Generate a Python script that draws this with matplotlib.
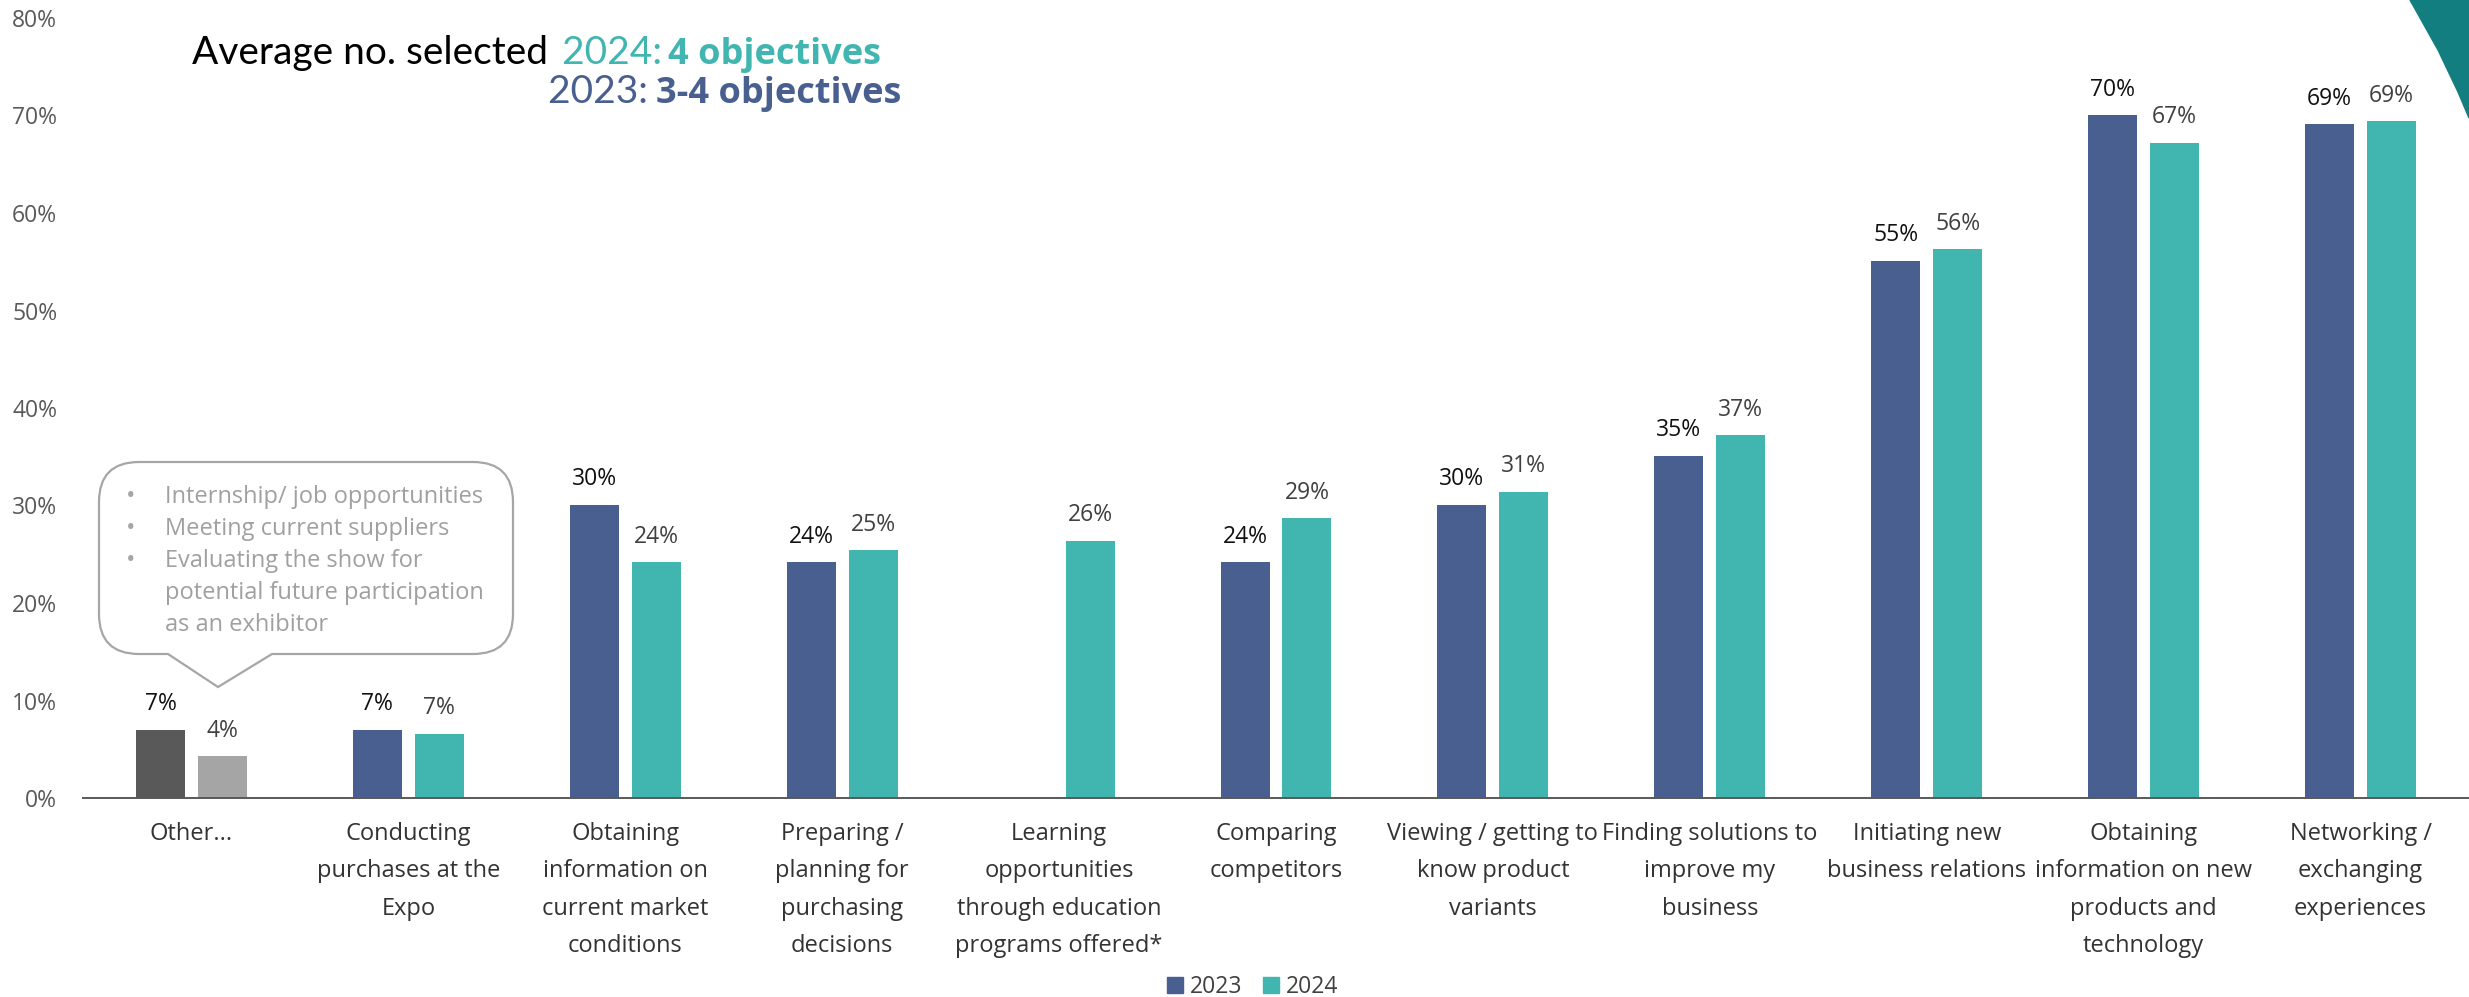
import numpy as np
import matplotlib.pyplot as plt
from matplotlib.patches import Patch, PathPatch, Polygon
from matplotlib.path import Path

plt.rcParams["font.family"] = ["Open Sans", "DejaVu Sans"]

# figure size in pixels
W, H = 2469, 997

categories = [
    "Other...",
    "Conducting\npurchases at the\nExpo",
    "Obtaining\ninformation on\ncurrent market\nconditions",
    "Preparing /\nplanning for\npurchasing\ndecisions",
    "Learning\nopportunities\nthrough education\nprograms offered*",
    "Comparing\ncompetitors",
    "Viewing / getting to\nknow product\nvariants",
    "Finding solutions to\nimprove my\nbusiness",
    "Initiating new\nbusiness relations",
    "Obtaining\ninformation on new\nproducts and\ntechnology",
    "Networking /\nexchanging\nexperiences",
]
share_2023 = [7.0, 7.0, 30.1, 24.2, np.nan, 24.2, 30.1, 35.1, 55.1, 70.0, 69.1]
share_2024 = [4.3, 6.6, 24.2, 25.4, 26.4, 28.7, 31.4, 37.2, 56.3, 67.2, 69.4]

other_notes = [
    ("•", "Internship/ job opportunities"),
    ("•", "Meeting current suppliers"),
    ("•", "Evaluating the show for"),
    ("", "potential future participation"),
    ("", "as an exhibitor"),
]

NAVY = "#485f8f"
TEAL = "#41b5b0"
colors_2023 = ["#595959"] + [NAVY] * (len(categories) - 1)
colors_2024 = ["#a5a5a5"] + [TEAL] * (len(categories) - 1)


def px(x, y):
    """pixel position (from top-left) -> figure fraction"""
    return x / W, 1 - y / H


fig = plt.figure(figsize=(W / 100, H / 100), dpi=100)
ax = fig.add_axes([83 / W, (H - 798) / H, 1 - 83 / W, (798 - 18) / H])

x = np.arange(len(categories))
bw = 0.2256
off = 0.1427
ax.bar(x - off, share_2023, width=bw, color=colors_2023)
ax.bar(x + off, share_2024, width=bw, color=colors_2024)

for xs, vals, tc in [(x - off, share_2023, "#111111"), (x + off, share_2024, "#404040")]:
    for xi, v in zip(xs, vals):
        if np.isnan(v):
            continue
        ax.annotate(f"{round(v)}%", (xi, v), xytext=(0, 14), textcoords="offset points",
                    ha="center", va="baseline", fontsize=16.5, color=tc)

ax.set_xlim(-0.5, 10.5)
ax.set_ylim(0, 80)
ax.set_yticks(range(0, 81, 10))
ax.set_yticklabels([f"{t}%" for t in range(0, 81, 10)])
ax.set_xticks(x)
ax.set_xticklabels(categories, linespacing=1.75)
ax.tick_params(axis="y", length=0, pad=18.5, labelsize=16.5, labelcolor="#595959")
ax.tick_params(axis="x", length=0, pad=17, labelsize=17, labelcolor="#333333")
for s in ["left", "right", "top"]:
    ax.spines[s].set_visible(False)
ax.spines["bottom"].set_color("#595959")
ax.spines["bottom"].set_linewidth(1.4)

# callout bubble for "Other..."
x0, x1, yt, yb, r = 99, 513, 462, 654, 40
tip = (218, 687)
verts = [
    (x0 + r, yt), (x1 - r, yt), (x1, yt), (x1, yt + r),
    (x1, yb - r), (x1, yb), (x1 - r, yb),
    (272, yb), tip, (168, yb),
    (x0 + r, yb), (x0, yb), (x0, yb - r),
    (x0, yt + r), (x0, yt), (x0 + r, yt),
]
codes = [Path.MOVETO, Path.LINETO, Path.CURVE3, Path.CURVE3,
         Path.LINETO, Path.CURVE3, Path.CURVE3,
         Path.LINETO, Path.LINETO, Path.LINETO,
         Path.LINETO, Path.CURVE3, Path.CURVE3,
         Path.LINETO, Path.CURVE3, Path.CURVE3]
bubble = Path([px(*v) for v in verts], codes)
fig.patches.append(PathPatch(bubble, transform=fig.transFigure, facecolor="white",
                             edgecolor="#a6a6a6", lw=1.6, zorder=3))
for i, (bullet, line) in enumerate(other_notes):
    yb_line = 503 + 32 * i
    if bullet:
        fig.text(*px(126, yb_line), bullet, fontsize=18, color="#a6a6a6", va="baseline", zorder=4)
    fig.text(*px(165, yb_line), line, fontsize=17, color="#a0a0a0", va="baseline", zorder=4)

# headline
fig.text(*px(192, 64), "Average no. selected ", family="Lato", fontsize=28, color="black", va="baseline")
fig.text(*px(562, 64), "2024: ", family="Lato", fontsize=28, color=TEAL, va="baseline")
fig.text(*px(668, 64), "4 objectives", fontsize=26, weight="bold", color=TEAL, va="baseline")
fig.text(*px(548, 103), "2023: ", family="Lato", fontsize=28, color=NAVY, va="baseline")
fig.text(*px(656, 103), "3-4 objectives", fontsize=26, weight="bold", color=NAVY, va="baseline")

# corner decoration
corner = Polygon([px(2410, 0), px(2438, 50), px(2458, 92), px(2469, 118), px(2469, 0)],
                 closed=True, transform=fig.transFigure, color="#137e80")
fig.patches.append(corner)

fig.legend(handles=[Patch(color=NAVY, label="2023"), Patch(color=TEAL, label="2024")],
           loc="center", bbox_to_anchor=px(1253, 987), ncol=2, frameon=False,
           fontsize=16.5, labelcolor="#404040", handlelength=0.7, handleheight=0.7,
           handletextpad=0.3, columnspacing=0.9)

fig.savefig("out.png", dpi=100)
